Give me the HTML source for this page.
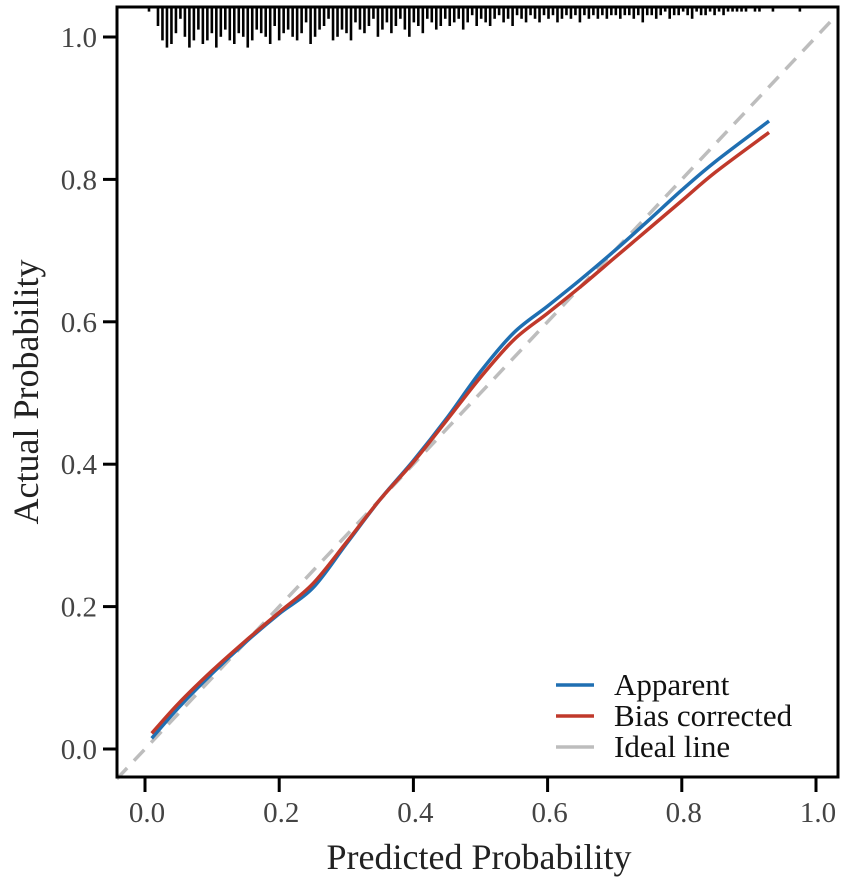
<!DOCTYPE html>
<html><head><meta charset="utf-8"><style>
body{margin:0;background:#fff}
svg{display:block;font-family:"Liberation Serif",serif}
</style></head><body>
<svg width="851" height="884" viewBox="0 0 851 884">
<g id="rug"></g>
<g id="ideal"></g>
<g id="series"></g>
<rect x="117" y="7" width="721" height="770" fill="none" stroke="#000" stroke-width="3"/>
<g id="xaxis"></g>
<g id="yaxis"></g>
<text x="479" y="869" font-size="36" text-anchor="middle" fill="#222">Predicted Probability</text>
<text transform="translate(38,392) rotate(-90)" font-size="36" text-anchor="middle" fill="#222">Actual Probability</text>
<g>
<line x1="556" y1="685" x2="594" y2="685" stroke="#1f6fb2" stroke-width="3.5"/>
<text x="614" y="695" font-size="31" fill="#111">Apparent</text>
<line x1="556" y1="716" x2="594" y2="716" stroke="#c0392b" stroke-width="3.5"/>
<text x="614" y="726" font-size="31" fill="#111">Bias corrected</text>
<line x1="556" y1="747" x2="594" y2="747" stroke="#bdbdbd" stroke-width="3.5"/>
<text x="614" y="757" font-size="31" fill="#111">Ideal line</text>
</g>
</svg>
<script>
const xTicks=[0,0.2,0.4,0.6,0.8,1.0];
const xTickLabels=["0.0","0.2","0.4","0.6","0.8","1.0"];
const yTicks=[0,0.2,0.4,0.6,0.8,1.0];
const yTickLabels=["0.0","0.2","0.4","0.6","0.8","1.0"];
const apparentX=[0.01,0.05,0.1,0.15,0.2,0.25,0.3,0.35,0.4,0.45,0.5,0.55,0.6,0.65,0.7,0.75,0.8,0.85,0.93];
const apparentY=[0.015,0.058,0.106,0.15,0.19,0.226,0.288,0.35,0.405,0.465,0.53,0.585,0.622,0.66,0.7,0.742,0.785,0.825,0.882];
const biasX=[0.01,0.05,0.1,0.15,0.2,0.25,0.3,0.35,0.4,0.45,0.5,0.55,0.6,0.65,0.7,0.75,0.8,0.85,0.93];
const biasY=[0.022,0.064,0.11,0.152,0.192,0.232,0.29,0.35,0.403,0.462,0.522,0.575,0.612,0.65,0.69,0.73,0.77,0.81,0.866];
const rugCounts=[1,0,5,9,11,10,7,3,8,11,9,6,10,9,7,11,8,6,9,10,7,8,11,9,6,7,8,10,5,9,7,6,8,9,7,4,10,8,6,5,3,9,8,6,7,9,4,6,7,5,3,8,6,4,7,5,3,6,8,4,5,7,3,4,6,5,3,5,4,3,6,4,2,5,3,4,5,3,2,4,3,5,2,3,4,2,3,4,2,3,2,4,3,2,3,2,4,2,3,2,3,2,3,2,2,3,2,2,3,2,4,2,2,3,2,1,3,2,2,1,2,3,1,2,2,1,2,1,2,1,1,1,1,1,0,1,1,0,0,1,0,0,0,0,0,1];
const rugStart=0.0, rugEnd=0.97;
const NS='http://www.w3.org/2000/svg';
const X0=145,X1=816,Y0=749,Y1=37;
const sx=v=>X0+v*(X1-X0), sy=v=>Y0-v*(Y0-Y1);
function mk(t,a,p){const e=document.createElementNS(NS,t);for(const k in a)e.setAttribute(k,a[k]);p.appendChild(e);return e;}
const xa=document.getElementById('xaxis');
xTicks.forEach((v,i)=>{
 const l=mk('line',{x1:sx(v),y1:778,x2:sx(v),y2:792,stroke:'#000','stroke-width':3},xa);
 
 
 const t=mk('text',{x:sx(v)+2,y:822,'font-size':29,'text-anchor':'middle',fill:'#444'},xa);
 t.textContent=xTickLabels[i];
 
 
});
const ya=document.getElementById('yaxis');
yTicks.forEach((v,i)=>{
 const l=mk('line',{x1:103,y1:sy(v),x2:117,y2:sy(v),stroke:'#000','stroke-width':3},ya);
 
 
 const t=mk('text',{x:97,y:sy(v)+10,'font-size':29,'text-anchor':'end',fill:'#444'},ya);
 t.textContent=yTickLabels[i];
 
 
});
const rug=document.getElementById('rug');
rugCounts.forEach((c,i)=>{
 if(!c)return;
 const v=rugStart+i*(rugEnd-rugStart)/(rugCounts.length-1);
 const l=mk('line',{x1:sx(v)+4,y1:8,x2:sx(v)+4,y2:8+c*3.6,stroke:'#000','stroke-width':2.6},rug);
 
 
});
const id=mk('line',{x1:sx(-0.042),y1:sy(-0.042),x2:sx(1.03),y2:sy(1.03),stroke:'#bdbdbd','stroke-width':3.5,'stroke-dasharray':'15,10'},document.getElementById('ideal'));


function smooth(xs,ys){
 const p=xs.map((x,i)=>[sx(x),sy(ys[i])]);
 let d='M'+p[0][0]+','+p[0][1];
 for(let i=0;i<p.length-1;i++){
  const a=p[i-1]||p[i],b=p[i],c=p[i+1],e=p[i+2]||c;
  d+=' C'+(b[0]+(c[0]-a[0])/6)+','+(b[1]+(c[1]-a[1])/6)+' '+(c[0]-(e[0]-b[0])/6)+','+(c[1]-(e[1]-b[1])/6)+' '+c[0]+','+c[1];
 }
 return d;
}
const sg=document.getElementById('series');
const pa=mk('path',{d:smooth(apparentX,apparentY),fill:'none',stroke:'#1f6fb2','stroke-width':3.5},sg);


const pb=mk('path',{d:smooth(biasX,biasY),fill:'none',stroke:'#c0392b','stroke-width':3.5},sg);


</script>
</body></html>
